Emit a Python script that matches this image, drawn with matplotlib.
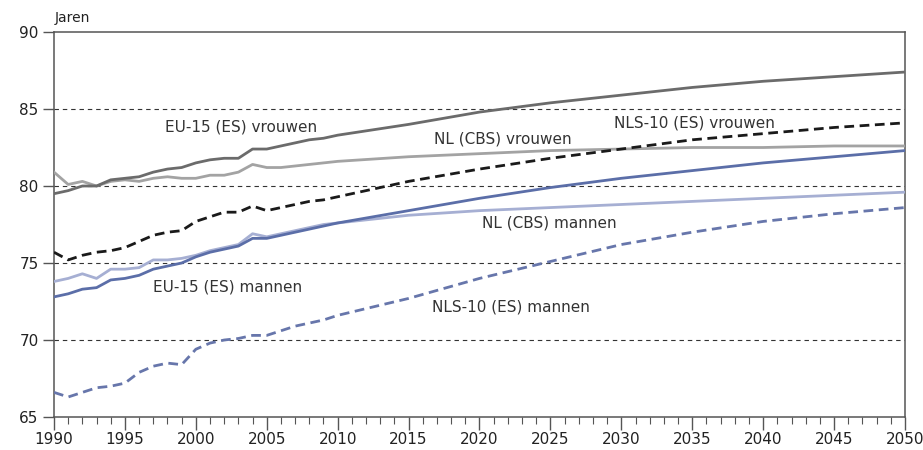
import matplotlib.pyplot as plt
from matplotlib.ticker import MultipleLocator

# waargenomen jaren 1990-2009, daarna projecties per 5 jaar
hist_years = list(range(1990, 2010))
proj_years = list(range(2010, 2051, 5))
years = hist_years + proj_years

eu_vrouwen = [79.5, 79.7, 80.0, 80.0, 80.4, 80.5, 80.6, 80.9, 81.1, 81.2,
              81.5, 81.7, 81.8, 81.8, 82.4, 82.4, 82.6, 82.8, 83.0, 83.1,
              83.3, 84.0, 84.8, 85.4, 85.9, 86.4, 86.8, 87.1, 87.4]
nl_vrouwen = [80.9, 80.1, 80.3, 80.0, 80.3, 80.4, 80.3, 80.5, 80.6, 80.5,
              80.5, 80.7, 80.7, 80.9, 81.4, 81.2, 81.2, 81.3, 81.4, 81.5,
              81.6, 81.9, 82.1, 82.3, 82.4, 82.5, 82.5, 82.6, 82.6]
nls_vrouwen = [75.7, 75.2, 75.5, 75.7, 75.8, 76.0, 76.4, 76.8, 77.0, 77.1,
               77.7, 78.0, 78.3, 78.3, 78.7, 78.4, 78.6, 78.8, 79.0, 79.1,
               79.3, 80.3, 81.1, 81.8, 82.4, 83.0, 83.4, 83.8, 84.1]
eu_mannen = [72.8, 73.0, 73.3, 73.4, 73.9, 74.0, 74.2, 74.6, 74.8, 75.0,
             75.4, 75.7, 75.9, 76.1, 76.6, 76.6, 76.8, 77.0, 77.2, 77.4,
             77.6, 78.4, 79.2, 79.9, 80.5, 81.0, 81.5, 81.9, 82.3]
nl_mannen = [73.8, 74.0, 74.3, 74.0, 74.6, 74.6, 74.7, 75.2, 75.2, 75.3,
             75.5, 75.8, 76.0, 76.2, 76.9, 76.7, 76.9, 77.1, 77.3, 77.5,
             77.6, 78.1, 78.4, 78.6, 78.8, 79.0, 79.2, 79.4, 79.6]
nls_mannen = [66.6, 66.3, 66.6, 66.9, 67.0, 67.2, 67.9, 68.3, 68.5, 68.4,
              69.4, 69.8, 70.0, 70.1, 70.3, 70.3, 70.6, 70.9, 71.1, 71.3,
              71.6, 72.7, 74.0, 75.1, 76.2, 77.0, 77.7, 78.2, 78.6]

fig = plt.figure(figsize=(9.23, 4.5), dpi=100)
ax = fig.add_axes([0.0585, 0.0733, 0.922, 0.8556])

for y in [70, 75, 80, 85]:
    ax.axhline(y, color='#333333', lw=0.8, ls=(0, (4, 3.5)), zorder=1)

ax.plot(years, nl_vrouwen, color='#a3a3a3', lw=2, zorder=3)
ax.plot(years, eu_vrouwen, color='#6b6b6b', lw=2, zorder=3)
ax.plot(years, nls_vrouwen, color='#1a1a1a', lw=2, ls=(0, (3.5, 2)), zorder=3)
ax.plot(years, nl_mannen, color='#a6afd3', lw=2, zorder=3)
ax.plot(years, eu_mannen, color='#5b6ea8', lw=2, zorder=4)
ax.plot(years, nls_mannen, color='#6776ab', lw=2, ls=(0, (3.5, 2)), zorder=3)

tc = '#333333'
fs = 11
ax.text(1997.8, 83.8, 'EU-15 (ES) vrouwen', color=tc, fontsize=fs, va='center')
ax.text(2016.8, 83.05, 'NL (CBS) vrouwen', color=tc, fontsize=fs, va='center')
ax.text(2029.5, 84.1, 'NLS-10 (ES) vrouwen', color=tc, fontsize=fs, va='center')
ax.text(1997.0, 73.45, 'EU-15 (ES) mannen', color=tc, fontsize=fs, va='center')
ax.text(2020.2, 77.6, 'NL (CBS) mannen', color=tc, fontsize=fs, va='center')
ax.text(2016.65, 72.15, 'NLS-10 (ES) mannen', color=tc, fontsize=fs, va='center')

ax.set_xlim(1990, 2050)
ax.set_ylim(65, 90)
ax.xaxis.set_major_locator(MultipleLocator(5))
ax.xaxis.set_minor_locator(MultipleLocator(1))
ax.yaxis.set_major_locator(MultipleLocator(5))

for s in ax.spines.values():
    s.set_color('#555555')
    s.set_linewidth(1.1)

ax.tick_params(axis='x', which='major', length=9, width=1, color='#555555',
               labelsize=11, labelcolor='#222222', pad=2)
ax.tick_params(axis='x', which='minor', length=5, width=0.8, color='#555555')
ax.tick_params(axis='y', which='major', length=8, width=1, color='#555555',
               labelsize=11, labelcolor='#222222', pad=3)

fig.text(0.0596, 0.96, 'Jaren', fontsize=10, color='#222222', va='center')

plt.savefig('out.png', dpi=100)
plt.close()
